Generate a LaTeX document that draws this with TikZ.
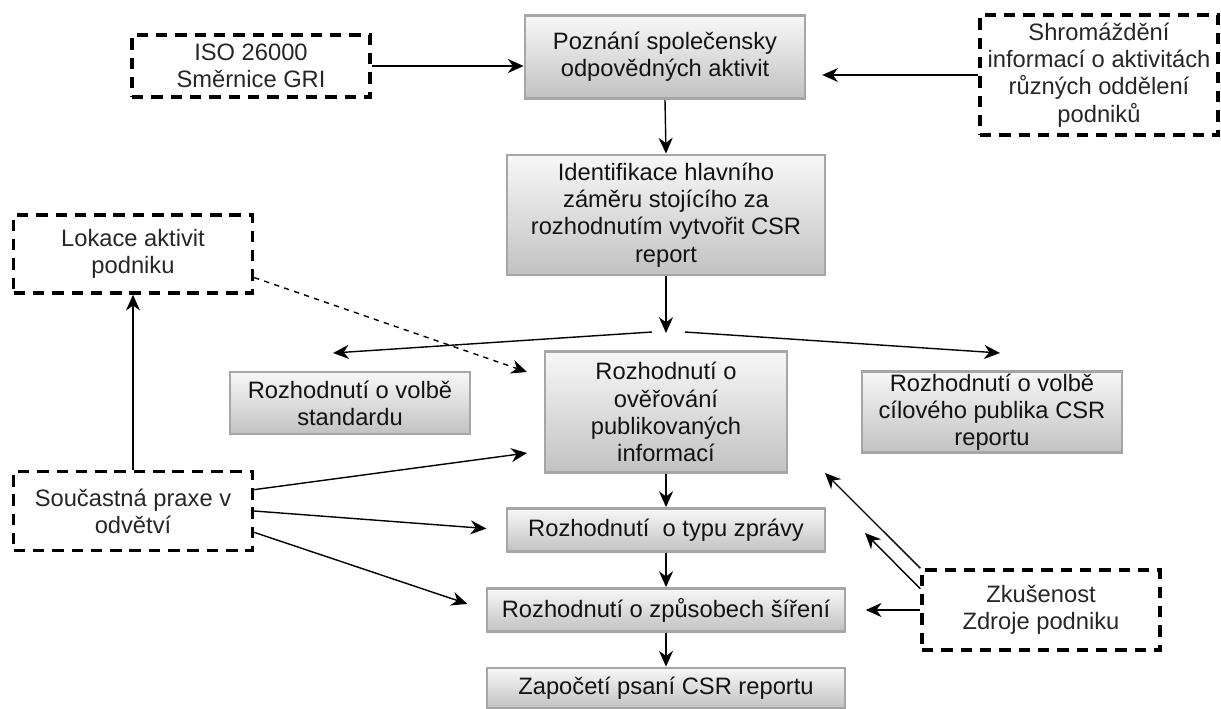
\documentclass[tikz,border=0pt]{standalone}
\usepackage{fontspec}
\setmainfont{Liberation Sans}
\usetikzlibrary{arrows.meta}
\tikzset{
	krok/.style={rectangle, draw=gray!70, line width=1.6pt, top color=gray!6, bottom color=gray!48, align=center, inner sep=0pt, text=gray!15!black, font=\fontsize{13.5}{15.5}\selectfont},
	zdroj/.style={rectangle, draw=black, line width=2pt, dash pattern=on 6.5pt off 4.5pt, align=center, inner sep=0pt, text=gray!30!black, font=\fontsize{13.5}{15.5}\selectfont},
	sipka/.style={-{Stealth[length=9pt,width=8pt]}, line width=0.8pt},
}
\begin{document}
\begin{tikzpicture}[x=0.02cm,y=-0.02cm]
			\useasboundingbox (0,0) rectangle (1221,708);
			\node[krok, minimum width=5.6cm, minimum height=1.66cm] (poz) at (665,57) {Poznání společensky\\odpovědných aktivit};
			\node[zdroj, minimum width=4.76cm, minimum height=1.24cm] (iso) at (251,66) {ISO 26000\\Směrnice GRI};
			\node[zdroj, minimum width=4.76cm, minimum height=2.4cm] (shrom) at (1099,75) {Shromáždění\\informací o aktivitách\\různých oddělení\\podniků};
			\node[krok, minimum width=6.36cm, minimum height=2.4cm] (ident) at (666,215) {Identifikace hlavního\\záměru stojícího za\\rozhodnutím vytvořit CSR\\report};
			\node[zdroj, minimum width=4.78cm, minimum height=1.56cm] (lok) at (133,254) {Lokace aktivit\\podniku};
			\node[krok, minimum width=4.8cm, minimum height=1.24cm] (std) at (350,403) {Rozhodnutí o volbě\\standardu};
			\node[krok, minimum width=4.84cm, minimum height=2.42cm] (over) at (666,412) {Rozhodnutí o\\ověřování\\publikovaných\\informací};
			\node[krok, minimum width=5.2cm, minimum height=1.62cm] (cil) at (992,412) {Rozhodnutí o volbě\\cílového publika CSR\\reportu};
			\node[zdroj, minimum width=4.78cm, minimum height=1.58cm] (soc) at (133,511) {Součastná praxe v\\odvětví};
			\node[krok, minimum width=6.36cm, minimum height=0.86cm] (typ) at (666,530) {Rozhodnutí \ o typu zprávy};
			\node[krok, minimum width=7.16cm, minimum height=0.86cm] (zpu) at (666,610) {Rozhodnutí o způsobech šíření};
			\node[krok, minimum width=7.16cm, minimum height=0.8cm] (zap) at (666,688) {Započetí psaní CSR reportu};
			\node[zdroj, minimum width=4.76cm, minimum height=1.6cm] (zk) at (1041,610) {Zkušenost\\Zdroje podniku};
			\coordinate (rozcesti) at (666,333);
			\coordinate (vlevo) at (652,332);
			\coordinate (vpravo) at (685,332);
			\coordinate (stdcil) at (333,353);
			\coordinate (cilcil) at (1000,353);
			\coordinate (overcil) at (527,372);
			\coordinate (overcil2) at (527,453);
			\coordinate (zkcil) at (825,473);
			\coordinate (zkcil2) at (865,533);
			\draw[sipka] (iso.east) -- (iso.east -| poz.west);
			\draw[sipka, shorten >=9pt] (shrom.west) -- (shrom.west -| poz.east);
			\draw[sipka] (poz.south) -- (ident.north);
			\draw[sipka] (ident.south) -- (rozcesti);
			\draw[sipka] (vlevo) -- (stdcil);
			\draw[sipka] (vpravo) -- (cilcil);
			\draw[sipka, dashed] (lok.-11) -- (overcil);
			\draw[sipka] (soc.north) -- (lok.south);
			\draw[sipka] (soc.10) -- (overcil2);
			\draw[sipka, shorten >=11pt] (soc.east) -- (typ.west);
			\draw[sipka, shorten >=11pt] (soc.-10) -- (zpu.west);
			\draw[sipka] (over.south) -- (typ.north);
			\draw[sipka] (typ.south) -- (zpu.north);
			\draw[sipka] (zpu.south) -- (zap.north);
			\draw[sipka, shorten >=11pt] (zk.west) -- (zpu.east);
			\draw[sipka] (zk.north west) -- (zkcil);
			\draw[sipka] (zk.170) -- (zkcil2);
		\end{tikzpicture}
\end{document}
